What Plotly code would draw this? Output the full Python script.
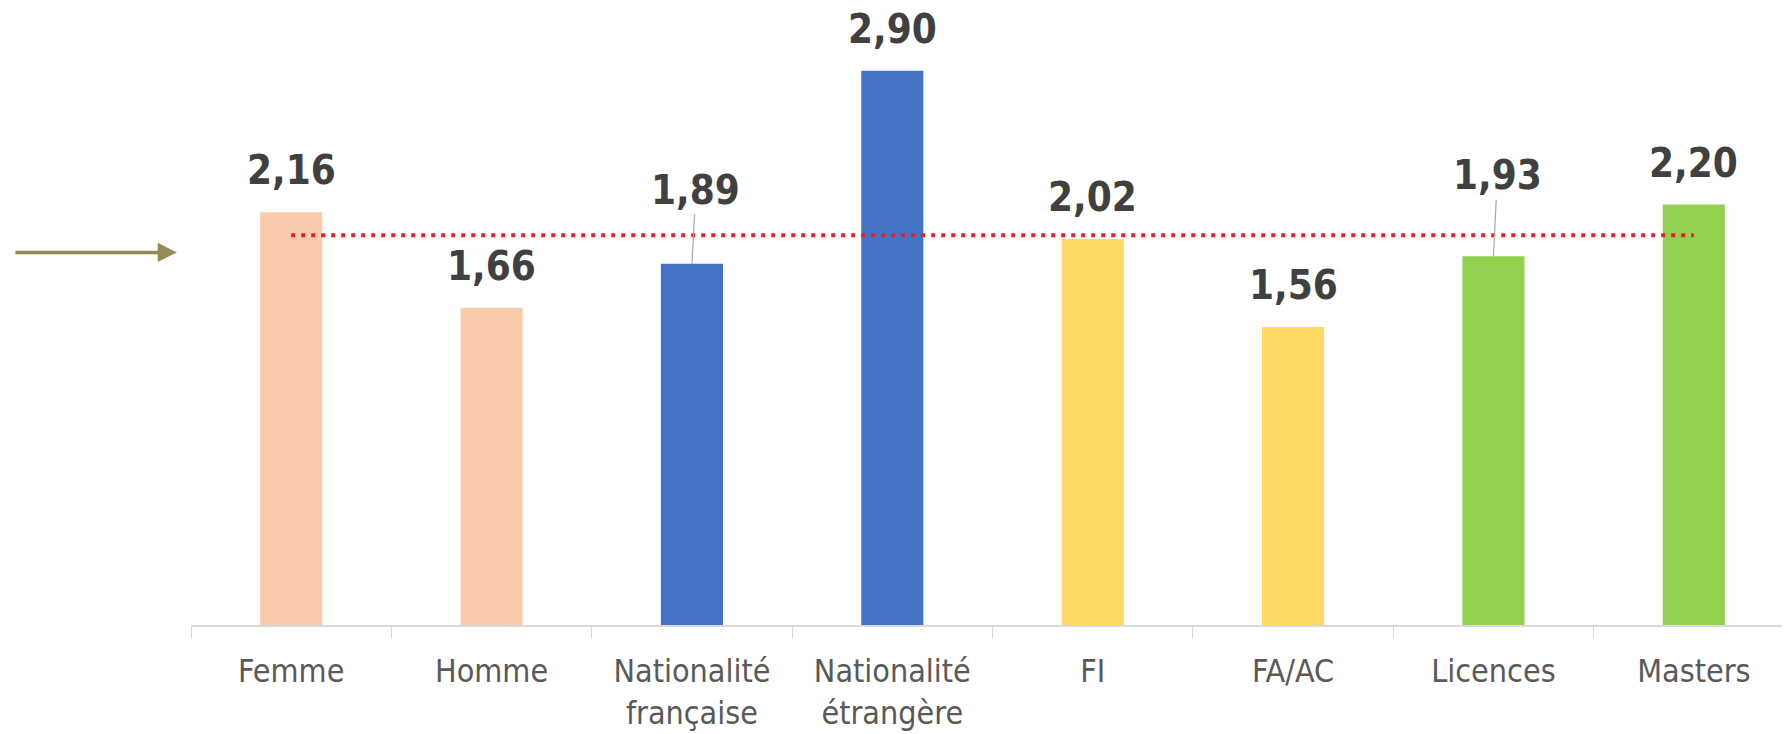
import plotly.graph_objects as go

# data
categories = ["Femme", "Homme", "Nationalité<br>française", "Nationalité<br>étrangère",
              "FI", "FA/AC", "Licences", "Masters"]
values = [2.16, 1.66, 1.89, 2.90, 2.02, 1.56, 1.93, 2.20]
labels = ["2,16", "1,66", "1,89", "2,90", "2,02", "1,56", "1,93", "2,20"]
bar_colors = ["#F8CBAD", "#F8CBAD", "#4472C4", "#4472C4",
              "#FFD966", "#FFD966", "#92D050", "#92D050"]
mean_value = 2.04

# labels pulled away from the bar with a leader line
leader = {"1,89": -74, "1,93": -81}

fig = go.Figure()

fig.add_trace(go.Bar(
    x=categories,
    y=values,
    marker=dict(color=bar_colors, line=dict(width=0)),
    width=0.31,
    showlegend=False,
    hoverinfo="skip",
))

fig.add_trace(go.Scatter(
    x=categories,
    y=[mean_value] * len(categories),
    mode="lines",
    line=dict(color="#E3202B", width=4, dash="4px,6px"),
    showlegend=False,
    hoverinfo="skip",
))

value_font = dict(family="DejaVu Sans Condensed, sans-serif", size=40, color="#404040")

for cat, val, lab in zip(categories, values, labels):
    if lab in leader:
        fig.add_annotation(
            x=cat, y=val, text=f"<b>{lab}</b>", font=value_font,
            showarrow=True, arrowhead=0, arrowwidth=1.2, arrowcolor="#A6A6A6",
            ax=4, ay=leader[lab],
        )
    else:
        fig.add_annotation(
            x=cat, y=val, text=f"<b>{lab}</b>", font=value_font,
            showarrow=False, yshift=42,
        )

# olive arrow in the left margin
fig.add_annotation(
    x=-0.0088, xref="paper", y=1.95, yref="y", text="",
    showarrow=True, arrowhead=2, arrowsize=1.1, arrowwidth=3.5,
    arrowcolor="#948A54", ax=-163, ay=0,
)

# page body adds an 8px offset, so the figure is sized to fit the window
fig.update_layout(
    width=1782,
    height=726,
    margin=dict(l=183, r=0, t=0, b=109),
    plot_bgcolor="white",
    paper_bgcolor="white",
    xaxis=dict(
        range=[-0.5, 7.48],
        showline=True, linecolor="#D9D9D9", linewidth=2,
        ticks="outside", tickson="boundaries", ticklen=11, tickcolor="#D9D9D9",
        ticklabelstandoff=17,
        tickfont=dict(family="DejaVu Sans Condensed, sans-serif", size=32, color="#595959"),
        showgrid=False,
    ),
    yaxis=dict(range=[0, 3.229], visible=False, showgrid=False),
)

fig.write_html("out.html")
